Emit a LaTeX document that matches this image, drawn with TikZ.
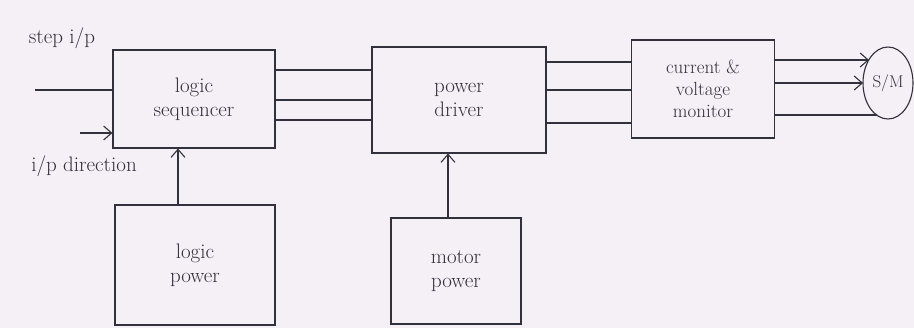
\documentclass[tikz,border=0pt]{standalone}
\usetikzlibrary{arrows.meta,shapes.geometric}
\definecolor{paper}{RGB}{245,239,246}
\definecolor{ink}{RGB}{50,48,58}
\begin{document}
\begin{tikzpicture}[x=1pt,y=-1pt,
  every node/.style={font=\fontsize{21}{24}\selectfont, text=ink},
  blk/.style={draw=ink, line width=1.1pt, align=center},
  wire/.style={draw=ink, line width=1.1pt},
  arr/.style={wire, -{Straight Barb[length=8pt,width=14pt]}}]
\fill[paper] (0,0) rectangle (914,328);
\useasboundingbox (0,0) rectangle (914,328);

\node[blk, minimum width=162pt, minimum height=98pt] (seq) at (194,99) {logic\\sequencer};
\node[blk, minimum width=174pt, minimum height=106pt] (pd) at (459,100) {power\\driver};
\node[blk, minimum width=143pt, minimum height=98pt, inner sep=1pt, font=\fontsize{19}{22}\selectfont] (mon) at (703,89) {current \&\\voltage\\monitor};
\node[blk, minimum width=160pt, minimum height=120pt] (lpow) at (195,265) {logic\\power};
\node[blk, minimum width=130pt, minimum height=106pt] (mpow) at (456,271) {motor\\power};
\node[blk, ellipse, minimum width=50pt, minimum height=72pt, inner sep=0pt, font=\fontsize{17}{20}\selectfont] (sm) at (888,83) {S/M};

\node (stepl) at (62,38) {step i/p};
\node (dirl) at (84,166) {i/p direction};

% inputs
\coordinate (stepin) at (35,90);
\coordinate (dirin) at (80,133);
\draw[wire] (stepin) -- (stepin -| seq.west);
\draw[arr] (dirin) -- (dirin -| seq.west);

% sequencer to driver
\foreach \s in {29,-1,-21}
  \draw[wire] ([yshift=\s pt]seq.east) -- ([yshift=\s pt]seq.east -| pd.west);
% driver to monitor
\foreach \s in {38,10,-23}
  \draw[wire] ([yshift=\s pt]pd.east) -- ([yshift=\s pt]pd.east -| mon.west);
% monitor to motor
\draw[arr] ([yshift=29pt]mon.east) -- ([yshift=23pt,xshift=-19pt]sm.center);
\draw[arr] ([yshift=6pt]mon.east) -- ([xshift=-25pt]sm.center);
\draw[wire] ([yshift=-26pt]mon.east) -- ([yshift=-32pt,xshift=-11.5pt]sm.center);

% power supplies
\draw[arr] ([xshift=-17pt]lpow.north) -- ([xshift=-17pt]lpow.north |- seq.south);
\draw[arr] ([xshift=-8pt]mpow.north) -- ([xshift=-8pt]mpow.north |- pd.south);
\end{tikzpicture}
\end{document}
